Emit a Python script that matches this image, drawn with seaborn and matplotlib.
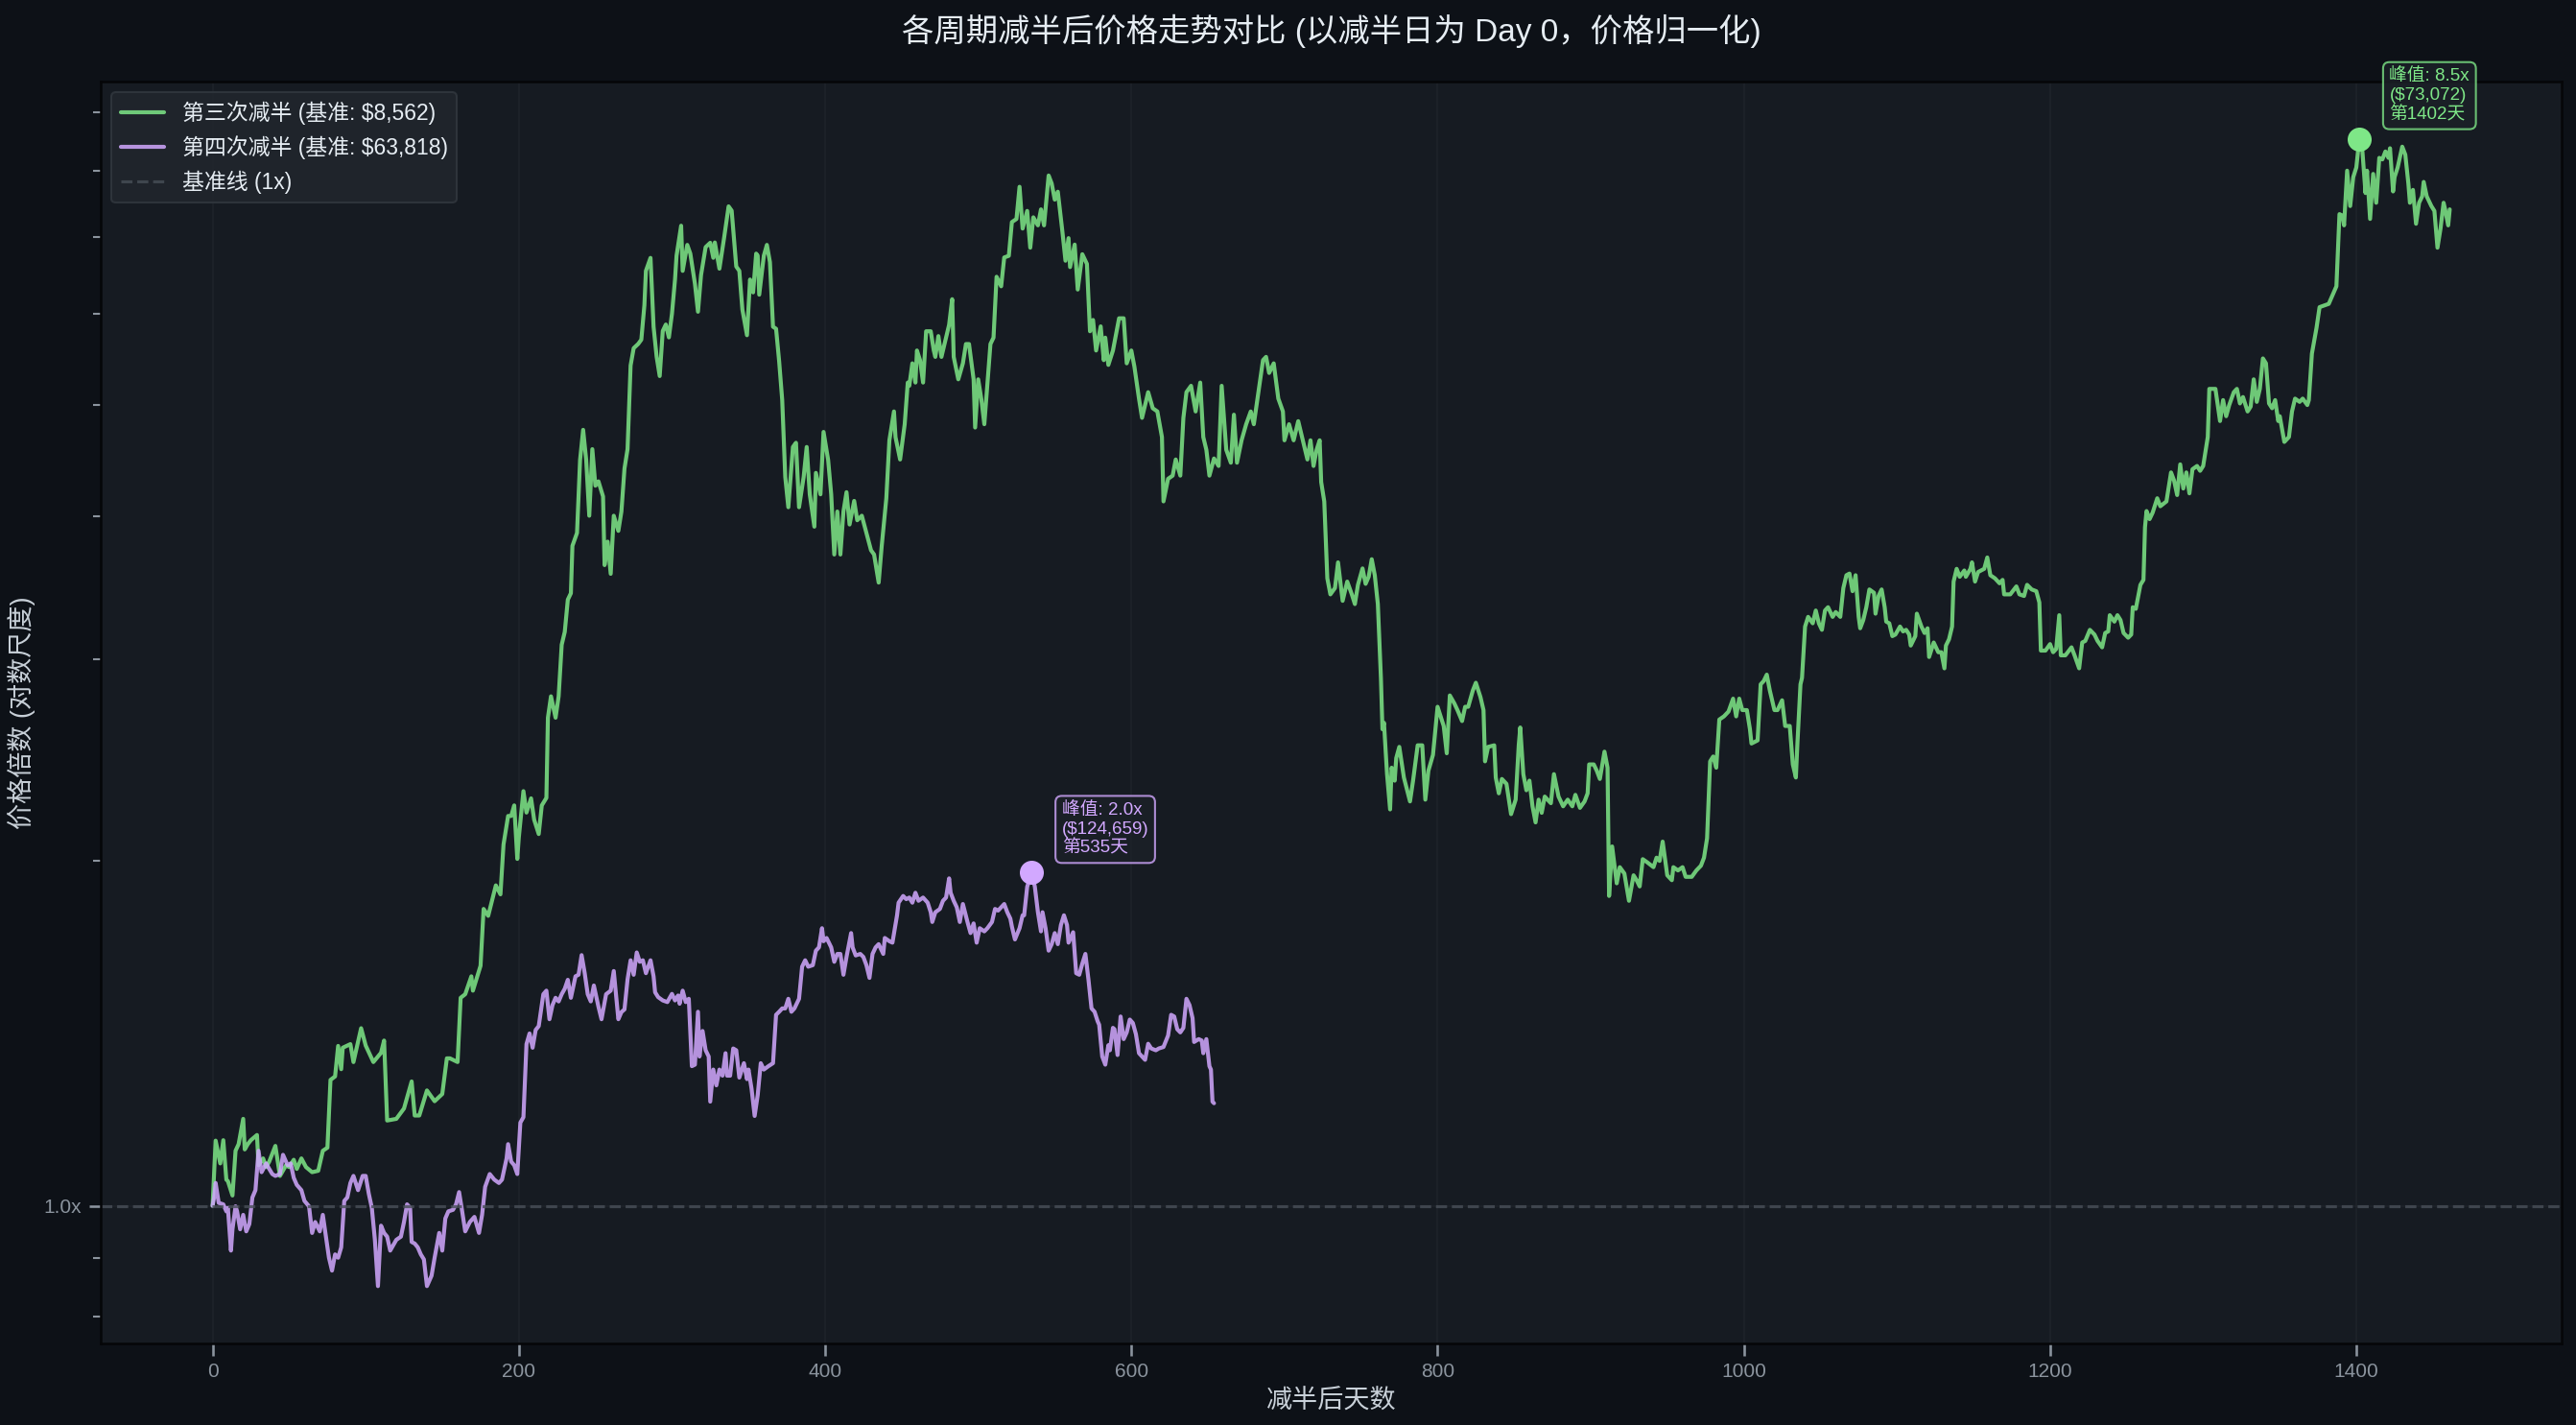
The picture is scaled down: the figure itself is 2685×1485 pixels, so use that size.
import numpy as np
import pandas as pd
import seaborn as sns
import matplotlib.pyplot as plt
from matplotlib.ticker import FuncFormatter, NullFormatter

# base prices on halving day
base_3 = 8562
base_4 = 63818

# (day after halving, price / base)
points_3 = [
    (0, 1.00), (2, 1.14), (5, 1.089), (7, 1.141), (9, 1.054), (10, 1.051), (13, 1.021), (15, 1.117), (17, 1.132), (20, 1.191),
    (21, 1.12), (23, 1.132), (25, 1.141), (29, 1.153), (30, 1.085), (33, 1.100), (35, 1.081), (37, 1.093), (41, 1.128), (44, 1.062),
    (48, 1.085), (50, 1.081), (53, 1.097), (55, 1.077), (58, 1.100), (61, 1.081), (65, 1.070), (69, 1.073), (72, 1.117), (75, 1.124),
    (77, 1.288), (80, 1.297), (82, 1.379), (84, 1.316), (85, 1.374), (90, 1.384), (92, 1.335), (97, 1.429), (100, 1.38), (105, 1.335),
    (110, 1.36), (112, 1.394), (114, 1.187), (120, 1.191), (125, 1.216), (130, 1.284), (132, 1.199), (135, 1.199), (140, 1.261), (145, 1.234),
    (150, 1.252), (153, 1.345), (155, 1.345), (160, 1.335), (162, 1.519), (165, 1.530), (169, 1.586), (170, 1.541), (175, 1.620), (177, 1.816),
    (180, 1.791), (185, 1.904), (188, 1.870), (190, 2.067), (193, 2.189), (195, 2.189), (197, 2.236), (199, 2.008), (200, 2.097), (203, 2.301),
    (205, 2.204), (208, 2.268), (210, 2.173), (213, 2.111), (215, 2.236), (218, 2.27), (219, 2.667), (221, 2.784), (224, 2.667), (226, 2.784),
    (228, 3.088), (230, 3.169), (232, 3.381), (234, 3.425), (235, 3.767), (238, 3.866), (240, 4.477), (242, 4.756), (244, 4.477), (246, 4.002),
    (248, 4.575), (250, 4.251), (252, 4.288), (255, 4.160), (256, 3.624), (258, 3.799), (260, 3.561), (262, 4.002), (265, 3.882), (267, 4.036),
    (269, 4.400), (271, 4.575), (273, 5.413), (275, 5.604), (278, 5.653), (280, 5.701), (282, 6.109), (283, 6.546), (286, 6.719), (288, 5.851),
    (290, 5.508), (292, 5.299), (294, 5.801), (296, 5.877), (298, 5.727), (300, 6.004), (302, 6.433), (303, 6.748), (306, 7.168), (307, 6.546),
    (310, 6.897), (312, 6.777), (315, 6.379), (317, 6.030), (319, 6.491), (322, 6.866), (325, 6.926), (327, 6.72), (328, 6.93), (331, 6.575),
    (334, 6.987), (337, 7.452), (339, 7.388), (342, 6.603), (344, 6.546), (346, 6.056), (349, 5.752), (351, 6.433), (353, 6.269), (355, 6.777),
    (356, 6.75), (357, 6.24), (360, 6.748), (362, 6.897), (364, 6.661), (366, 5.851), (368, 5.827), (370, 5.460), (372, 5.051), (374, 4.325),
    (376, 4.071), (379, 4.595), (381, 4.634), (383, 4.071), (386, 4.325), (388, 4.595), (390, 4.178), (393, 3.915), (394, 4.362), (397, 4.178),
    (399, 4.736), (402, 4.477), (404, 4.178), (406, 3.702), (408, 4.036), (410, 3.702), (412, 4.036), (414, 4.196), (416, 3.932), (419, 4.123),
    (421, 3.966), (424, 4.002), (427, 3.866), (430, 3.734), (432, 3.702), (435, 3.499), (437, 3.767), (440, 4.145), (442, 4.657), (445, 4.935),
    (446, 4.687), (449, 4.481), (452, 4.810), (454, 5.230), (455, 5.196), (457, 5.436), (459, 5.230), (460, 5.578), (462, 5.471), (464, 5.230),
    (466, 5.798), (469, 5.798), (471, 5.578), (472, 5.507), (474, 5.742), (476, 5.507), (479, 5.724), (481, 5.874), (483, 6.184), (484, 5.507),
    (487, 5.264), (490, 5.436), (492, 5.651), (494, 5.651), (497, 5.264), (498, 4.778), (500, 5.264), (502, 5.064), (504, 4.810), (508, 5.651),
    (510, 5.724), (512, 6.469), (515, 6.346), (517, 6.725), (520, 6.747), (522, 7.220), (525, 7.266), (527, 7.751), (529, 7.127), (532, 7.384),
    (534, 6.858), (536, 7.290), (539, 7.173), (541, 7.407), (543, 7.173), (546, 7.929), (548, 7.802), (550, 7.553), (552, 7.675), (555, 7.081),
    (557, 6.681), (559, 6.991), (560, 6.596), (563, 6.901), (565, 6.305), (568, 6.769), (571, 6.638), (573, 5.798), (575, 5.931), (577, 5.578),
    (580, 5.855), (582, 5.471), (583, 5.724), (585, 5.419), (588, 5.578), (592, 5.951), (595, 5.951), (597, 5.436), (600, 5.578), (602, 5.401),
    (605, 5.064), (607, 4.872), (611, 5.130), (614, 4.967), (617, 4.935), (620, 4.687), (621, 4.119), (624, 4.310), (627, 4.338), (629, 4.481),
    (632, 4.338), (634, 4.872), (636, 5.130), (639, 5.196), (642, 4.935), (645, 5.230), (647, 4.687), (649, 4.569), (651, 4.338), (654, 4.49),
    (657, 4.423), (659, 5.196), (662, 4.569), (665, 4.452), (667, 4.903), (669, 4.452), (672, 4.657), (675, 4.810), (678, 4.935), (680, 4.810),
    (683, 5.130), (686, 5.471), (688, 5.507), (690, 5.332), (693, 5.436), (696, 5.064), (699, 4.935), (700, 4.657), (703, 4.810), (706, 4.657),
    (709, 4.840), (712, 4.657), (715, 4.481), (717, 4.657), (719, 4.423), (721, 4.569), (723, 4.657), (724, 4.282), (726, 4.119), (728, 3.529),
    (730, 3.417), (733, 3.461), (735, 3.644), (738, 3.373), (741, 3.506), (744, 3.417), (746, 3.351), (748, 3.483), (751, 3.60), (753, 3.49),
    (755, 3.540), (757, 3.667), (759, 3.551), (761, 3.351), (763, 2.889), (764, 2.606), (765, 2.640), (767, 2.381), (769, 2.218), (770, 2.412),
    (772, 2.350), (773, 2.459), (775, 2.515), (778, 2.365), (782, 2.254), (784, 2.350), (787, 2.523), (790, 2.523), (792, 2.262), (794, 2.397),
    (797, 2.475), (800, 2.726), (802, 2.674), (804, 2.623), (806, 2.483), (808, 2.789), (811, 2.744), (813, 2.708), (816, 2.649), (818, 2.726),
    (820, 2.726), (823, 2.816), (825, 2.861), (828, 2.780), (830, 2.708), (831, 2.443), (833, 2.515), (837, 2.523), (838, 2.365), (840, 2.291),
    (842, 2.358), (845, 2.335), (848, 2.197), (851, 2.262), (853, 2.523), (854, 2.615), (856, 2.381), (858, 2.305), (860, 2.350), (862, 2.232),
    (864, 2.161), (866, 2.262), (868, 2.203), (870, 2.276), (874, 2.246), (876, 2.381), (879, 2.276), (882, 2.232), (885, 2.262), (888, 2.232),
    (890, 2.284), (893, 2.225), (896, 2.254), (898, 2.291), (899, 2.428), (902, 2.428), (904, 2.397), (906, 2.358), (909, 2.491), (911, 2.412),
    (912, 1.864), (914, 2.059), (917, 1.912), (919, 1.975), (922, 1.950), (925, 1.846), (928, 1.943), (930, 1.924), (932, 1.900), (934, 2.007),
    (937, 1.994), (941, 1.975), (943, 2.013), (945, 2.000), (947, 2.079), (950, 1.943), (953, 1.924), (954, 1.975), (957, 1.962), (960, 1.975),
    (962, 1.937), (966, 1.937), (969, 1.962), (972, 1.981), (974, 2.013), (976, 2.093), (978, 2.443), (980, 2.467), (982, 2.412), (984, 2.657),
    (987, 2.674), (990, 2.700), (993, 2.771), (995, 2.674), (997, 2.771), (999, 2.708), (1002, 2.708), (1004, 2.606), (1005, 2.532), (1009, 2.548),
    (1011, 2.852), (1013, 2.871), (1015, 2.908), (1017, 2.816), (1020, 2.708), (1022, 2.708), (1025, 2.762), (1027, 2.623), (1030, 2.623), (1032, 2.428),
    (1034, 2.365), (1035, 2.532), (1037, 2.852), (1038, 2.889), (1040, 3.203), (1042, 3.266), (1045, 3.224), (1047, 3.308), (1049, 3.224), (1051, 3.182),
    (1053, 3.308), (1055, 3.330), (1058, 3.266), (1060, 3.298), (1063, 3.266), (1065, 3.461), (1067, 3.551), (1069, 3.563), (1071, 3.439), (1073, 3.551),
    (1075, 3.266), (1076, 3.192), (1078, 3.245), (1080, 3.330), (1082, 3.451), (1085, 3.428), (1086, 3.287), (1088, 3.406), (1090, 3.451), (1092, 3.330),
    (1093, 3.235), (1095, 3.224), (1097, 3.142), (1099, 3.152), (1102, 3.203), (1104, 3.172), (1106, 3.182), (1108, 3.152), (1109, 3.083), (1112, 3.142),
    (1113, 3.287), (1116, 3.203), (1118, 3.162), (1120, 3.192), (1121, 3.013), (1124, 3.102), (1127, 3.042), (1129, 3.042), (1131, 2.945), (1132, 3.083),
    (1134, 3.122), (1136, 3.203), (1137, 3.506), (1139, 3.597), (1141, 3.540), (1144, 3.585), (1145, 3.540), (1148, 3.597), (1149, 3.644), (1151, 3.506),
    (1153, 3.574), (1157, 3.597), (1159, 3.680), (1161, 3.551), (1164, 3.529), (1167, 3.494), (1169, 3.518), (1170, 3.417), (1174, 3.417), (1178, 3.472),
    (1180, 3.417), (1183, 3.406), (1185, 3.483), (1188, 3.451), (1191, 3.439), (1193, 3.362), (1194, 3.052), (1197, 3.052), (1200, 3.092), (1202, 3.042),
    (1204, 3.062), (1206, 3.277), (1207, 3.023), (1210, 3.023), (1214, 3.072), (1216, 3.023), (1219, 2.945), (1221, 3.102), (1223, 3.112), (1226, 3.182),
    (1229, 3.152), (1231, 3.112), (1234, 3.072), (1236, 3.162), (1238, 3.172), (1239, 3.277), (1242, 3.235), (1244, 3.277), (1246, 3.245), (1248, 3.162),
    (1251, 3.132), (1253, 3.152), (1254, 3.330), (1256, 3.319), (1259, 3.483), (1261, 3.518), (1262, 3.911), (1263, 4.040), (1265, 3.975), (1267, 4.027),
    (1270, 4.145), (1272, 4.079), (1276, 4.119), (1279, 4.366), (1281, 4.295), (1283, 4.172), (1285, 4.437), (1287, 4.227), (1289, 4.366), (1291, 4.186),
    (1293, 4.394), (1296, 4.423), (1298, 4.380), (1300, 4.423), (1303, 4.688), (1304, 5.164), (1308, 5.164), (1311, 4.841), (1313, 5.049), (1315, 4.888),
    (1317, 4.999), (1320, 5.130), (1322, 5.164), (1324, 5.015), (1326, 5.080), (1329, 4.935), (1331, 4.983), (1333, 5.264), (1335, 5.031), (1337, 5.164),
    (1339, 5.490), (1341, 5.436), (1343, 5.015), (1345, 4.967), (1347, 5.049), (1349, 4.841), (1350, 4.888), (1353, 4.642), (1356, 4.688), (1358, 4.935),
    (1360, 5.064), (1363, 5.031), (1365, 5.064), (1368, 4.999), (1369, 5.049), (1371, 5.543), (1374, 5.836), (1376, 6.086), (1379, 6.106), (1382, 6.126),
    (1387, 6.346), (1389, 7.337), (1391, 7.313), (1392, 7.173), (1394, 8.006), (1396, 7.457), (1398, 7.903), (1400, 8.058), (1402, 8.5344), (1404, 8.321),
    (1406, 7.654), (1407, 8.006), (1409, 7.266), (1411, 7.954), (1413, 7.506), (1415, 8.215), (1417, 8.189), (1419, 8.321), (1421, 8.215), (1422, 8.375),
    (1424, 7.679), (1425, 7.903), (1427, 8.058), (1430, 8.402), (1432, 8.268), (1434, 7.802), (1435, 7.506), (1437, 7.703), (1439, 7.196), (1441, 7.506),
    (1443, 7.603), (1444, 7.827), (1446, 7.603), (1449, 7.457), (1451, 7.384), (1453, 6.858), (1455, 7.127), (1457, 7.506), (1458, 7.407), (1460, 7.173),
    (1461, 7.407),
]

points_4 = [
    (0, 1.00), (1, 1.017), (2, 1.047), (4, 1.006), (7, 1.003), (9, 0.989), (10, 0.996), (12, 0.914), (13, 0.954), (15, 0.999),
    (16, 0.989), (18, 0.954), (20, 0.982), (22, 0.950), (24, 0.964), (26, 1.017), (28, 1.032), (30, 1.117), (32, 1.070), (35, 1.089),
    (37, 1.077), (39, 1.066), (41, 1.062), (44, 1.066), (46, 1.108), (49, 1.085), (51, 1.089), (53, 1.058), (55, 1.043), (58, 1.032),
    (60, 1.010), (63, 0.999), (65, 0.947), (67, 0.968), (70, 0.950), (72, 0.982), (74, 0.940), (76, 0.901), (78, 0.878), (80, 0.907),
    (82, 0.901), (84, 0.920), (86, 1.010), (88, 1.017), (90, 1.047), (92, 1.062), (95, 1.032), (98, 1.062), (100, 1.062), (102, 1.025),
    (104, 0.996), (106, 0.934), (108, 0.851), (110, 0.961), (112, 0.947), (114, 0.940), (116, 0.914), (118, 0.924), (120, 0.934), (123, 0.940),
    (125, 0.968), (127, 1.003), (129, 0.996), (130, 0.930), (132, 0.927), (134, 0.920), (136, 0.907), (138, 0.898), (140, 0.851), (143, 0.869),
    (145, 0.901), (148, 0.947), (150, 0.914), (152, 0.975), (154, 0.989), (157, 0.992), (159, 1.003), (161, 1.028), (163, 0.989), (165, 0.950),
    (168, 0.968), (171, 0.978), (174, 0.947), (176, 0.982), (178, 1.039), (181, 1.066), (184, 1.054), (187, 1.047), (189, 1.054), (192, 1.100),
    (193, 1.132), (195, 1.093), (197, 1.085), (199, 1.066), (201, 1.182), (203, 1.195), (205, 1.384), (207, 1.414), (209, 1.374), (211, 1.424),
    (213, 1.435), (216, 1.530), (218, 1.541), (220, 1.455), (222, 1.497), (224, 1.519), (226, 1.508), (228, 1.530), (230, 1.547), (232, 1.575),
    (234, 1.519), (237, 1.586), (239, 1.591), (241, 1.655), (243, 1.597), (245, 1.530), (247, 1.508), (249, 1.557), (252, 1.492), (254, 1.455),
    (257, 1.530), (260, 1.541), (262, 1.603), (265, 1.455), (267, 1.476), (269, 1.484), (271, 1.576), (273, 1.638), (275, 1.591), (277, 1.664),
    (279, 1.633), (281, 1.638), (283, 1.596), (286, 1.638), (288, 1.586), (289, 1.536), (291, 1.521), (294, 1.511), (297, 1.506), (300, 1.531),
    (302, 1.511), (304, 1.526), (305, 1.501), (307, 1.541), (309, 1.506), (311, 1.516), (313, 1.324), (315, 1.328), (317, 1.477), (318, 1.350),
    (320, 1.421), (322, 1.367), (324, 1.350), (325, 1.233), (327, 1.315), (329, 1.274), (331, 1.315), (333, 1.299), (335, 1.359), (336, 1.299),
    (338, 1.299), (340, 1.372), (342, 1.367), (344, 1.294), (347, 1.332), (349, 1.290), (350, 1.315), (352, 1.265), (354, 1.198), (356, 1.249),
    (358, 1.332), (360, 1.315), (363, 1.324), (366, 1.332), (368, 1.468), (370, 1.477), (372, 1.487), (374, 1.487), (376, 1.516), (378, 1.477),
    (380, 1.487), (383, 1.516), (385, 1.617), (387, 1.638), (389, 1.617), (392, 1.622), (394, 1.670), (396, 1.681), (398, 1.747), (399, 1.702),
    (401, 1.713), (404, 1.681), (406, 1.633), (408, 1.659), (410, 1.659), (412, 1.591), (414, 1.649), (417, 1.730), (418, 1.681), (420, 1.654),
    (423, 1.659), (425, 1.649), (427, 1.622), (429, 1.581), (431, 1.659), (433, 1.681), (435, 1.692), (438, 1.659), (439, 1.713), (442, 1.702),
    (444, 1.697), (447, 1.793), (448, 1.839), (451, 1.864), (453, 1.852), (455, 1.858), (457, 1.839), (459, 1.876), (461, 1.846), (464, 1.858),
    (467, 1.839), (469, 1.804), (470, 1.769), (472, 1.804), (475, 1.816), (477, 1.846), (479, 1.858), (481, 1.931), (482, 1.876), (484, 1.846),
    (486, 1.822), (488, 1.769), (490, 1.834), (493, 1.769), (495, 1.730), (497, 1.764), (499, 1.697), (501, 1.747), (504, 1.736), (506, 1.747),
    (509, 1.769), (511, 1.816), (513, 1.810), (517, 1.834), (519, 1.804), (521, 1.781), (522, 1.753), (524, 1.708), (527, 1.747), (529, 1.793),
    (530, 1.793), (532, 1.899), (535, 1.95335), (537, 1.899), (539, 1.804), (541, 1.736), (542, 1.804), (544, 1.747), (546, 1.670), (548, 1.692),
    (550, 1.730), (552, 1.692), (554, 1.758), (556, 1.793), (558, 1.758), (559, 1.697), (562, 1.733), (564, 1.596), (566, 1.591), (568, 1.627),
    (570, 1.659), (572, 1.576), (574, 1.487), (576, 1.477), (578, 1.449), (579, 1.439), (581, 1.350), (583, 1.328), (585, 1.381), (586, 1.367),
    (588, 1.430), (589, 1.426), (591, 1.354), (593, 1.463), (595, 1.398), (597, 1.417), (599, 1.454), (601, 1.444), (603, 1.412), (605, 1.359),
    (607, 1.350), (609, 1.341), (611, 1.385), (613, 1.372), (616, 1.367), (618, 1.372), (621, 1.376), (624, 1.408), (626, 1.468), (628, 1.463),
    (630, 1.426), (632, 1.417), (634, 1.430), (636, 1.516), (638, 1.497), (640, 1.458), (641, 1.390), (644, 1.398), (646, 1.394), (647, 1.359),
    (649, 1.398), (651, 1.324), (652, 1.315), (653, 1.233), (654, 1.229),
]

df3 = pd.DataFrame(points_3, columns=['day', 'mult'])
df4 = pd.DataFrame(points_4, columns=['day', 'mult'])

# colours (GitHub dark look)
fig_bg = '#0d1117'
ax_bg = '#161b22'
green = '#7ee787'
purple = '#d2a8ff'
text_col = '#c9d1d9'
tick_col = '#8b949e'

sns.set_theme(style='dark')
plt.rcParams['font.family'] = ['Liberation Sans', 'Noto Sans CJK SC', 'DejaVu Sans']
plt.rcParams['axes.unicode_minus'] = False

fig, ax = plt.subplots(figsize=(17.9, 9.9), dpi=150)
fig.patch.set_facecolor(fig_bg)
ax.set_facecolor(ax_bg)
fig.subplots_adjust(left=0.0391, right=0.9944, top=0.9428, bottom=0.0572)

sns.lineplot(data=df3, x='day', y='mult', ax=ax, color=green, alpha=0.85, linewidth=2.0,
             label=f'第三次减半 (基准: \\${base_3:,})')
sns.lineplot(data=df4, x='day', y='mult', ax=ax, color=purple, alpha=0.85, linewidth=2.0,
             label=f'第四次减半 (基准: \\${base_4:,})')
ax.axhline(1.0, color='#484f58', linestyle='--', linewidth=1.5, alpha=0.8, label='基准线 (1x)')

# peak markers + annotation boxes
for df, base, col in [(df3, base_3, green), (df4, base_4, purple)]:
    i = df['mult'].idxmax()
    d, m = int(df.loc[i, 'day']), df.loc[i, 'mult']
    ax.plot(d, m, 'o', color=col, markersize=11, zorder=5)
    ax.annotate(f'峰值: {m:.1f}x\n(\\${base * m:,.0f})\n第{d}天',
                xy=(d, m), xytext=(15, 8), textcoords='offset points',
                fontsize=9, color=col, ha='left', va='bottom',
                bbox=dict(boxstyle='round,pad=0.35', fc='#1c2128', ec=col, alpha=0.8))

ax.set_yscale('log')
ax.yaxis.set_major_formatter(FuncFormatter(lambda v, _: f'{v:.1f}x'))
ax.yaxis.set_minor_formatter(NullFormatter())

ax.set_title('各周期减半后价格走势对比 (以减半日为 Day 0，价格归一化)',
             fontsize=16, color='#e6edf3', pad=20)
ax.set_xlabel('减半后天数', fontsize=13, color=text_col)
ax.set_ylabel('价格倍数 (对数尺度)', fontsize=13, color=text_col)

ax.tick_params(axis='both', which='both', bottom=True, left=True, colors=tick_col, labelsize=10)
ax.grid(True, which='major', color='#30363d', alpha=0.3, linewidth=0.8)
for sp in ax.spines.values():
    sp.set_color('#050608')
    sp.set_linewidth(1.2)

leg = ax.legend(loc='upper left', fontsize=11, facecolor='#21262d', edgecolor='#30363d',
                labelcolor='#e6edf3', framealpha=0.9)

fig.savefig('out.png', dpi=150, facecolor=fig_bg)
